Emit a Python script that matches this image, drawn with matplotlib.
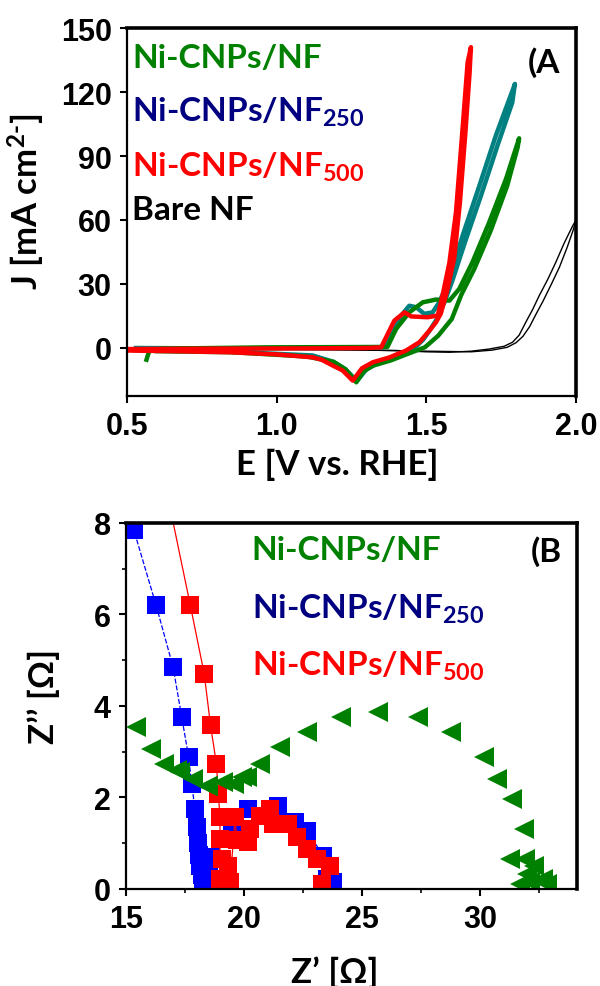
import numpy as np
import matplotlib
matplotlib.use('Agg')
import matplotlib.pyplot as plt
from matplotlib.ticker import MultipleLocator

# ---- Panel A: cyclic voltammograms (E in V vs RHE, J in mA cm-2) ----
nf_E = [0.565, 0.575, 0.62, 0.97, 1.2, 1.37, 1.399, 1.443, 1.488, 1.532, 1.577, 1.61, 1.654,
        1.71, 1.766, 1.81, 1.805, 1.77, 1.715, 1.66, 1.617, 1.585, 1.54, 1.495, 1.437, 1.38,
        1.321, 1.29, 1.266, 1.23, 1.19, 1.10, 0.85, 0.60]
nf_J = [-5.5, -1.0, -0.3, 0.3, 0.4, 0.5, 8.9, 16.7, 21.4, 22.7, 22.2, 27.7, 40.2,
        58.9, 79.2, 98.3, 94, 76, 55, 37, 25, 13.6, 5.8, 0.3, -2.8, -5.9,
        -8.3, -11, -16.1, -10, -6.5, -4, -2, -1.5]

nf250_E = [0.53, 0.8, 1.1, 1.3, 1.36, 1.377, 1.416, 1.443, 1.466, 1.493, 1.521, 1.543, 1.577,
           1.621, 1.677, 1.732, 1.796, 1.787, 1.738, 1.684, 1.63, 1.588, 1.562, 1.537, 1.51,
           1.49, 1.45, 1.40, 1.34, 1.30, 1.268, 1.23, 1.19, 1.12, 0.85, 0.53]
nf250_J = [0.0, -0.2, -0.1, 0.1, 0.4, 4.2, 15.2, 19.8, 19.1, 16.0, 16.7, 21.4, 32.3,
           52.6, 76, 99.5, 123.8, 115, 95, 72, 50, 32, 22, 14, 8,
           4, -1.5, -4.5, -7, -10, -15.5, -10, -6.5, -3.5, -1.8, -1.0]

nf500_E = [0.50, 0.80, 1.10, 1.30, 1.349, 1.393, 1.427, 1.449, 1.504, 1.538, 1.554, 1.577,
           1.599, 1.621, 1.638, 1.649, 1.644, 1.630, 1.612, 1.593, 1.568, 1.548, 1.532, 1.51,
           1.477, 1.432, 1.377, 1.321, 1.285, 1.254, 1.22, 1.188, 1.15, 1.121, 1.0, 0.843,
           0.65, 0.50]
nf500_J = [-0.5, -0.3, -0.2, 0.0, 0.3, 12.8, 16.7, 14.8, 14.4, 15.2, 24.5, 40,
           63.6, 102.7, 134, 141, 128, 100, 68, 42, 26, 16, 12, 8.1,
           2.7, -1.2, -4.4, -6.7, -9.5, -15.3, -10.5, -8.3, -5.5, -4.4, -3, -2,
           -1.5, -1.2]

bare_fwd_E = [1.0, 1.2, 1.4, 1.5, 1.577, 1.65, 1.71, 1.76, 1.788, 1.81, 1.832, 1.855, 1.877,
              1.905, 1.932, 1.96, 1.988, 2.0]
bare_fwd_J = [-0.5, -0.8, -1.2, -1.8, -2.0, -1.5, -0.5, 0.8, 2.7, 6, 12, 18, 24.5,
              32, 40, 49, 57, 60]
bare_rev_E = [2.0, 1.99, 1.97, 1.945, 1.918, 1.89, 1.867, 1.845, 1.823, 1.80, 1.77, 1.72,
              1.65, 1.5, 1.3, 1.0]
bare_rev_J = [60, 55, 47, 38, 30, 22, 16, 10, 5.5, 2.5, 0.3, -1.0,
              -1.8, -1.5, -1.0, -0.6]

# ---- Panel B: Nyquist plots (Z', Z'' in ohm) ----
nf_zr = [15.41, 16.06, 16.63, 17.15, 17.28, 17.85, 18.42, 18.49, 19.12, 19.56, 19.9, 20.13,
         20.68, 21.51, 22.65, 24.12, 25.67, 27.38, 28.76, 30.15, 30.71, 31.34, 31.84, 31.27,
         31.9, 32.26, 31.98, 32.68, 32.12, 32.82, 31.7]
nf_zi = [3.54, 3.07, 2.74, 2.59, 2.56, 2.41, 2.26, 2.26, 2.33, 2.30, 2.44, 2.45,
         2.73, 3.10, 3.43, 3.76, 3.87, 3.76, 3.43, 2.89, 2.40, 1.97, 1.31, 0.66,
         0.66, 0.51, 0.33, 0.22, 0.15, 0.11, 0.11]

nf250_zr = [23.78, 23.5, 23.36, 22.65, 22.16, 21.45, 20.18, 19.48, 18.6, 18.5, 18.35, 18.25,
            18.2, 18.15, 18.1, 18.05, 18.0, 17.92, 17.78, 17.65, 17.36, 16.99, 16.27, 15.33, 14.9]
nf250_zi = [0.15, 0.22, 0.73, 1.27, 1.46, 1.82, 1.75, 1.35, 0.7, 0.3, 0.05, 0.1,
            0.3, 0.5, 0.75, 1.0, 1.35, 1.75, 2.30, 2.89, 3.76, 4.86, 6.21, 7.85, 9.2]

nf500_zr = [23.29, 23.64, 23.08, 22.65, 22.23, 21.88, 21.24, 21.1, 20.68, 20.25, 20.18, 19.69,
            19.62, 19.41, 19.34, 19.05, 18.98, 18.98, 18.98, 18.91, 18.83, 18.58, 18.31, 17.72, 16.6]
nf500_zi = [0.11, 0.51, 0.66, 0.87, 1.13, 1.42, 1.42, 1.75, 1.60, 1.31, 1.02, 1.06,
            1.57, 0.15, 0.51, 0.66, 0.22, 1.09, 1.57, 2.08, 2.73, 3.58, 4.71, 6.21, 9.0]

GREEN = '#008000'
TEAL = '#008080'
RED = '#ff0000'
NAVY = '#000080'
BLUE = '#0000ff'

plt.rcParams['mathtext.fontset'] = 'custom'
plt.rcParams['mathtext.rm'] = 'Lato:bold'
plt.rcParams['mathtext.it'] = 'Lato:bold'
plt.rcParams['mathtext.bf'] = 'Lato:bold'
plt.rcParams['mathtext.default'] = 'rm'

lab_font = dict(family=['Lato', 'DejaVu Sans'], weight='bold')
leg_size = 24
axlab_size = 25


def style_axes(ax):
    for side in ['left', 'bottom']:
        ax.spines[side].set_linewidth(1.6)
    for side in ['top', 'right']:
        ax.spines[side].set_linewidth(2.6)
    ax.tick_params(which='major', direction='out', length=5, width=1.5, pad=6,
                   top=False, right=False)
    ax.tick_params(which='minor', direction='out', length=3, width=1.2,
                   top=False, right=False)
    for t in ax.get_xticklabels() + ax.get_yticklabels():
        t.set_fontfamily('Liberation Sans')
        t.set_fontweight('bold')
        t.set_fontsize(22)


fig = plt.figure(figsize=(6, 9.87), dpi=100)

# Panel A
axA = fig.add_axes([0.2117, 0.5978, 0.7483, 0.3728])
axA.plot(bare_fwd_E, bare_fwd_J, color='black', lw=1.0)
axA.plot(bare_rev_E, bare_rev_J, color='black', lw=1.0)
axA.plot(nf250_E, nf250_J, color=TEAL, lw=3.2)
axA.plot(nf_E, nf_J, color=GREEN, lw=3.2)
axA.plot(nf500_E, nf500_J, color=RED, lw=3.2)
axA.set_xlim(0.5, 2.0)
axA.set_ylim(-22.5, 150)
axA.set_xticks([0.5, 1.0, 1.5, 2.0])
axA.set_yticks([0, 30, 60, 90, 120, 150])
axA.xaxis.set_major_formatter(matplotlib.ticker.FormatStrFormatter('%.1f'))
style_axes(axA)
axA.set_xlabel('E [V vs. RHE]', fontsize=axlab_size, **lab_font)
axA.set_ylabel(r'J [mA cm$^{2\text{-}}$]', fontsize=axlab_size, **lab_font)
axA.xaxis.set_label_coords(0.468, -0.14)
axA.yaxis.set_label_coords(-0.178, 0.53)

axA.text(0.011, 0.894, 'Ni-CNPs/NF', color=GREEN, fontsize=leg_size, transform=axA.transAxes, **lab_font)
axA.text(0.011, 0.747, 'Ni-CNPs/NF$_{250}$', color=NAVY, fontsize=leg_size, transform=axA.transAxes, **lab_font)
axA.text(0.011, 0.598, 'Ni-CNPs/NF$_{500}$', color=RED, fontsize=leg_size, transform=axA.transAxes, **lab_font)
axA.text(0.011, 0.481, 'Bare NF', color='black', fontsize=leg_size, transform=axA.transAxes, **lab_font)
axA.text(0.893, 0.880, '(A', color='black', fontsize=leg_size, transform=axA.transAxes, **lab_font)

# Panel B
axB = fig.add_axes([0.21, 0.0983, 0.7517, 0.3708])
axB.plot(nf250_zr, nf250_zi, color=BLUE, lw=0.9, ls=(0, (4, 1.5)), marker='s', ms=13.5,
         mfc=BLUE, mec=BLUE, mew=0)
axB.plot(nf500_zr, nf500_zi, color=RED, lw=0.9, marker='s', ms=13.5,
         mfc=RED, mec=RED, mew=0)
axB.plot(nf_zr, nf_zi, ls='none', marker='<', ms=15, mfc=GREEN, mec=GREEN, mew=0)
axB.set_xlim(15, 34.1)
axB.set_ylim(0, 8)
axB.set_xticks([15, 20, 25, 30])
axB.set_yticks([0, 2, 4, 6, 8])
axB.xaxis.set_minor_locator(MultipleLocator(2.5))
axB.yaxis.set_minor_locator(MultipleLocator(1))
style_axes(axB)
axB.set_xlabel('Z\u2019 [\u03a9]', fontsize=axlab_size, **lab_font)
axB.set_ylabel('Z\u2019\u2019 [\u03a9]', fontsize=axlab_size, **lab_font)
axB.xaxis.set_label_coords(0.463, -0.18)
axB.yaxis.set_label_coords(-0.146, 0.53)

axB.text(0.279, 0.902, 'Ni-CNPs/NF', color=GREEN, fontsize=leg_size, transform=axB.transAxes, **lab_font)
axB.text(0.279, 0.740, 'Ni-CNPs/NF$_{250}$', color=NAVY, fontsize=leg_size, transform=axB.transAxes, **lab_font)
axB.text(0.279, 0.585, 'Ni-CNPs/NF$_{500}$', color=RED, fontsize=leg_size, transform=axB.transAxes, **lab_font)
axB.text(0.898, 0.896, '(B', color='black', fontsize=leg_size, transform=axB.transAxes, **lab_font)

fig.savefig('out.png', dpi=100)
